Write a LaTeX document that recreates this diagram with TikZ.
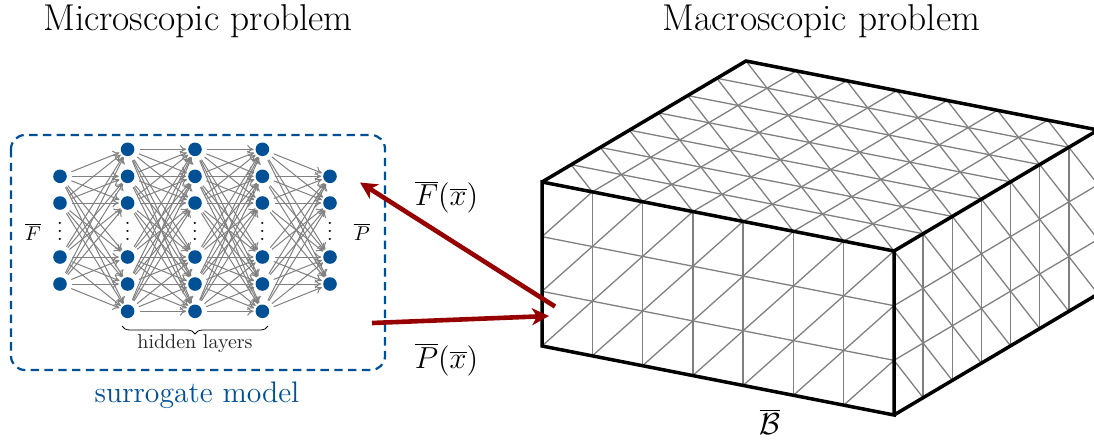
\RequirePackage{fix-cm}
\documentclass[tikz,border=0pt]{standalone}
\usetikzlibrary{arrows.meta,decorations.pathreplacing}
\definecolor{nnblue}{RGB}{0,80,150}
\definecolor{arrowred}{RGB}{150,0,0}
\newcommand{\titlesize}{\fontsize{18.7}{22}\selectfont}
\newcommand{\mathsize}{\fontsize{15.2}{18}\selectfont}
\newcommand{\modelsize}{\fontsize{14.85}{18}\selectfont}
\tikzset{
  neuron/.style={circle,fill=nnblue,draw=none,minimum size=6.8pt,inner sep=0pt,outer sep=0pt},
  synapse/.style={draw=gray,line width=0.5pt,-{To[length=3.2pt,width=4.4pt]},shorten <=2.7pt,shorten >=1pt},
  meshline/.style={draw=gray,line width=0.65pt},
  cubeedge/.style={draw=black,line width=1.75pt,line join=miter},
  bigarrow/.style={draw=arrowred,line width=2.3pt,-{Stealth[length=8.5pt,width=8.5pt,inset=2.5pt]}},
  frameblue/.style={draw=nnblue,line width=1.1pt,dash pattern=on 4.2pt off 2.7pt,rounded corners=7pt},
}
\begin{document}
\begin{tikzpicture}[x=0.5pt,y=-0.5pt]
\useasboundingbox (0,0) rectangle (1094,440);
\begin{scope}
\clip (0,0) rectangle (1094,440);
\coordinate (A) at (542,182);
\coordinate (B) at (894,251);
\coordinate (C) at (894,415);
\coordinate (D) at (542,346);
\coordinate (E) at (746,61);
\coordinate (F) at (1098,130);
\coordinate (G) at (1098,294);
% front face
\begin{scope}[shift={(A)},x={(25.143pt,-4.929pt)},y={(0pt,-27.333pt)}]
\foreach \i in {1,...,6} \draw[meshline] (\i,0) -- (\i,3);
\foreach \j in {1,2} \draw[meshline] (0,\j) -- (7,\j);
\foreach \i in {0,...,6} \foreach \j in {0,1,2} \draw[meshline] (\i,\j+1) -- (\i+1,\j);
\end{scope}
% top face
\begin{scope}[shift={(A)},x={(25.143pt,-4.929pt)},y={(14.571pt,8.643pt)}]
\foreach \i in {1,...,6} \draw[meshline] (\i,0) -- (\i,7);
\foreach \j in {1,...,6} \draw[meshline] (0,\j) -- (7,\j);
\foreach \i in {0,...,6} \foreach \j in {0,...,6} \draw[meshline] (\i+1,\j) -- (\i,\j+1);
\end{scope}
% right face
\begin{scope}[shift={(B)},x={(14.571pt,8.643pt)},y={(0pt,-27.333pt)}]
\foreach \i in {1,...,6} \draw[meshline] (\i,0) -- (\i,3);
\foreach \j in {1,2} \draw[meshline] (0,\j) -- (7,\j);
\foreach \i in {0,...,6} \foreach \j in {0,1,2} \draw[meshline] (\i,\j) -- (\i+1,\j+1);
\end{scope}
\draw[cubeedge] (A) -- (B) -- (C) -- (D) -- cycle;
\draw[cubeedge] (A) -- (E) -- (F) -- (B);
\draw[cubeedge] (C) -- (G) -- (F);
\end{scope}
% network
\foreach \l/\x in {1/60,5/330} \foreach \n/\y in {1/176.3,2/203,3/257,4/284}
  \node[neuron] (n-\l-\n) at (\x,\y) {};
\foreach \l/\x in {2/127.6,3/195,4/262.4} \foreach \n/\y in {1/149.3,2/176.3,3/203,4/257,5/284,6/311.3}
  \node[neuron] (n-\l-\n) at (\x,\y) {};
\foreach \b in {1,...,6} \foreach \a in {1,...,4} {
  \draw[synapse] (n-1-\a) -- (n-2-\b);
  \draw[synapse] (n-4-\b) -- (n-5-\a);
}
\foreach \a in {1,...,6} \foreach \b in {1,...,6} {
  \draw[synapse] (n-2-\a) -- (n-3-\b);
  \draw[synapse] (n-3-\a) -- (n-4-\b);
}
\foreach \l/\x in {1/60,2/127.6,3/195,4/262.4,5/330}
  \node[inner sep=0pt] (dots-\l) at (\x,225.5) {$\vdots$};
\node (Flabel) at (33,232) {$\overline{F}$};
\node (Plabel) at (362,232) {$\overline{P}$};
\draw[decorate,decoration={brace,mirror,amplitude=4pt},line width=0.4pt] (122,326) coordinate (bl) -- (268,326) coordinate (br);
\node[text=black!85] (hidden) at (195,344) {hidden layers};
\draw[frameblue] (11,135) rectangle (385,370);
\node[text=nnblue,font=\modelsize] (surrogate) at (197,395) {surrogate model};
\node[font=\titlesize] (micro) at (198,21.5) {Microscopic problem};
\node[font=\titlesize] (macro) at (821.5,21.5) {Macroscopic problem};
\node[font=\mathsize] (Fx) at (446.5,197) {$\overline{F}(\overline{x})$};
\node[font=\mathsize] (Px) at (446.5,359.5) {$\overline{P}(\overline{x})$};
\node[font=\mathsize] (Bbar) at (770,422) {$\overline{\mathcal{B}}$};
% red connectors
\coordinate (r1s) at (555,306.5);
\coordinate (r1e) at (360,182.5);
\coordinate (r2s) at (372,323);
\coordinate (r2e) at (549,316);
\draw[bigarrow] (r1s) -- (r1e);
\draw[bigarrow] (r2s) -- (r2e);
\end{tikzpicture}
\end{document}
